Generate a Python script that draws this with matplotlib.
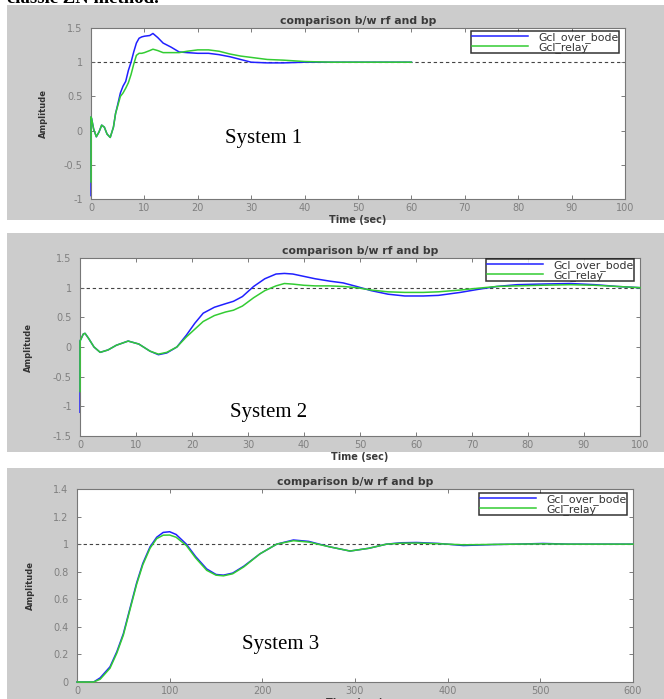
import matplotlib
matplotlib.use('Agg')
import matplotlib.pyplot as plt
from matplotlib.patches import Rectangle

plt.rcParams['axes.unicode_minus'] = False

# System 1 step responses
t1 = [0, 0, 0.1, 0.5, 1.0, 1.5, 2.0, 2.5, 3.0, 3.6, 4.2, 4.6, 5.0, 5.5, 6.0, 6.5, 7.0, 7.5, 8.0, 8.5,
      9.0, 9.5, 10.0, 11.0, 11.6, 12.5, 13.5, 15, 16.5, 18, 20, 22, 24, 26, 28, 30, 33, 36, 40, 45, 50, 55, 60]
bode1 = [-0.95, 0.2, 0.18, 0.02, -0.09, -0.02, 0.08, 0.05, -0.05, -0.1, 0.05, 0.25, 0.38, 0.55, 0.65, 0.72,
         0.88, 1.0, 1.15, 1.28, 1.35, 1.37, 1.38, 1.39, 1.42, 1.36, 1.28, 1.22, 1.15, 1.14, 1.13, 1.13, 1.11,
         1.08, 1.04, 1.0, 0.99, 0.99, 1.0, 1.0, 1.0, 1.0, 1.0]
relay1 = [-0.75, 0.2, 0.18, 0.02, -0.09, -0.02, 0.08, 0.05, -0.05, -0.1, 0.05, 0.25, 0.36, 0.5, 0.55, 0.62,
          0.7, 0.82, 0.97, 1.1, 1.13, 1.13, 1.14, 1.17, 1.19, 1.17, 1.14, 1.14, 1.14, 1.16, 1.18, 1.18, 1.16,
          1.12, 1.09, 1.07, 1.04, 1.03, 1.01, 1.0, 1.0, 1.0, 1.0]

# System 2 step responses
t2 = [0, 0, 0.6, 0.9, 1.5, 2.5, 3.6, 5, 6.5, 8.6, 10.5, 12.5, 14, 15.5, 17.3, 19, 20.5, 22, 24, 26, 27.4,
      29, 31, 33, 35, 36.5, 38, 40, 42, 44.6, 47, 49.4, 52, 55, 58, 61.3, 64, 67.9, 71, 74.4, 78, 82, 87.5,
      92, 96, 100]
bode2 = [-1.1, 0.1, 0.22, 0.23, 0.15, 0.0, -0.09, -0.05, 0.03, 0.10, 0.05, -0.07, -0.13, -0.1, 0.0, 0.2,
         0.4, 0.57, 0.67, 0.73, 0.77, 0.85, 1.02, 1.15, 1.23, 1.24, 1.23, 1.19, 1.15, 1.11, 1.08, 1.02, 0.95,
         0.89, 0.86, 0.86, 0.87, 0.92, 0.97, 1.02, 1.05, 1.06, 1.07, 1.05, 1.02, 1.0]
relay2 = [-0.75, 0.1, 0.22, 0.23, 0.15, 0.0, -0.09, -0.05, 0.03, 0.10, 0.05, -0.07, -0.12, -0.09, 0.0, 0.17,
          0.3, 0.43, 0.53, 0.59, 0.62, 0.69, 0.83, 0.95, 1.03, 1.07, 1.06, 1.04, 1.03, 1.03, 1.02, 1.0, 0.96,
          0.93, 0.92, 0.92, 0.93, 0.96, 0.99, 1.02, 1.03, 1.04, 1.05, 1.04, 1.02, 1.0]

# System 3 step responses
t3 = [0, 10, 18, 25, 35.6, 43, 50, 57, 64.4, 71, 78.8, 86, 93, 100, 107, 118, 128, 140, 150, 158, 168, 180,
      197.5, 215.5, 233.5, 250, 273, 294.6, 315, 334, 350, 366.5, 390, 416.9, 449, 475, 503, 530, 560, 600]
bode3 = [0, 0, 0.0, 0.03, 0.11, 0.22, 0.35, 0.53, 0.72, 0.86, 0.98, 1.05, 1.085, 1.09, 1.07, 1.0, 0.91,
         0.82, 0.78, 0.775, 0.79, 0.84, 0.93, 1.0, 1.03, 1.02, 0.98, 0.95, 0.97, 1.0, 1.01, 1.012, 1.005,
         0.99, 0.997, 1.0, 1.005, 1.0, 1.0, 1.0]
relay3 = [0, 0, 0.0, 0.02, 0.1, 0.21, 0.34, 0.52, 0.71, 0.85, 0.97, 1.04, 1.065, 1.066, 1.05, 0.99, 0.9,
          0.81, 0.775, 0.77, 0.785, 0.835, 0.93, 1.0, 1.025, 1.015, 0.98, 0.95, 0.97, 1.0, 1.007, 1.008,
          1.003, 0.995, 0.998, 1.0, 1.002, 1.0, 1.0, 1.0]

W, H = 664, 699
fig = plt.figure(figsize=(W / 100, H / 100), dpi=100)
fig.set_facecolor('white')


def box(l, t, r, b):
    return [l / W, 1 - b / H, (r - l) / W, (b - t) / H]


def gray_panel(t, b):
    l, tt, w, h = box(7, t, W, b)
    fig.patches.append(Rectangle((l, tt), w, h, transform=fig.transFigure,
                                 facecolor='#cccccc', edgecolor='none', zorder=-10))


panels = [
    dict(bg=(5, 220), ax=(91, 28, 625, 199), t=t1, a=bode1, b=relay1, xlim=(0, 100), xt=range(0, 101, 10),
         ylim=(-1, 1.5), yt=[-1, -0.5, 0, 0.5, 1, 1.5], yl=['-1', '-0.5', '0', '0.5', '1', '1.5'],
         leg=(451, 31, 619, 52), name='System 1', npos=(225, 138), ylx=43),
    dict(bg=(233, 452), ax=(80, 258, 640, 436), t=t2, a=bode2, b=relay2, xlim=(0, 100), xt=range(0, 101, 10),
         ylim=(-1.5, 1.5), yt=[-1.5, -1, -0.5, 0, 0.5, 1, 1.5],
         yl=['-1.5', '-1', '-0.5', '0', '0.5', '1', '1.5'],
         leg=(458, 259, 634, 282), name='System 2', npos=(230, 413), ylx=28),
    dict(bg=(468, 699), ax=(77, 489, 633, 682), t=t3, a=bode3, b=relay3, xlim=(0, 600), xt=range(0, 601, 100),
         ylim=(0, 1.4), yt=[0, 0.2, 0.4, 0.6, 0.8, 1, 1.2, 1.4],
         yl=['0', '0.2', '0.4', '0.6', '0.8', '1', '1.2', '1.4'],
         leg=(453, 493, 627, 516), name='System 3', npos=(242, 644), ylx=30),
]

for p in panels:
    gray_panel(*p['bg'])
    l, t, r, b = p['ax']
    ax = fig.add_axes(box(l, t, r, b))
    ax.set_facecolor('white')
    ax.axhline(1, color='#444444', lw=0.8, ls=(0, (3, 2.5)), zorder=1)
    ax.plot(p['t'], p['a'], color='#2020ff', lw=1.1, label='Gcl_over_bode', zorder=2, clip_on=False)
    ax.plot(p['t'], p['b'], color='#33cc33', lw=1.1, label='Gcl_relay', zorder=3, clip_on=False)
    ax.set_xlim(*p['xlim'])
    ax.set_ylim(*p['ylim'])
    ax.set_xticks(list(p['xt']))
    ax.set_yticks(p['yt'])
    ax.set_yticklabels(p['yl'])
    ax.tick_params(direction='in', length=3, width=0.6, top=True, right=True, colors='#666666',
                   labelsize=7, labelcolor='#808080')
    ax.tick_params(axis='y', pad=6)
    ax.tick_params(axis='x', pad=3)
    for s in ax.spines.values():
        s.set_color('#777777')
        s.set_linewidth(0.8)
    ax.set_title('comparison b/w rf and bp', fontsize=7.8, fontweight='bold', color='#3a3a3a', pad=3)
    ax.set_xlabel('Time (sec)', fontsize=7, fontweight='bold', color='#3a3a3a', labelpad=1)
    fig.text(p['ylx'] / W, 1 - (t + b) / 2 / H, 'Amplitude', rotation=90, fontsize=6, fontweight='bold',
             color='#333333', family=['Liberation Sans Narrow', 'DejaVu Sans'], ha='center', va='center')
    ll, lt, lr, lb = p['leg']
    leg = ax.legend(loc='upper right', bbox_to_anchor=((lr - l) / (r - l), 1 - (lt - t) / (b - t)),
                    borderaxespad=0, handlelength=5.2, handletextpad=0.9,
                    borderpad=0.08, labelspacing=-0.1, fancybox=False, frameon=True,
                    prop={'family': 'DejaVu Sans', 'size': 7.8})
    leg.get_frame().set_edgecolor('black')
    leg.get_frame().set_linewidth(1.1)
    for txt in leg.get_texts():
        txt.set_color('#333333')
    nx, ny = p['npos']
    fig.text(nx / W, 1 - ny / H, p['name'], family='Liberation Serif', fontsize=15,
             va='center', ha='left', color='black')

fig.text(7 / W, 1 - 3 / H, 'classic ZN method.', family='Liberation Serif', fontsize=13.5,
         fontweight='bold', va='baseline', ha='left')

fig.savefig('out.png', dpi=100)
